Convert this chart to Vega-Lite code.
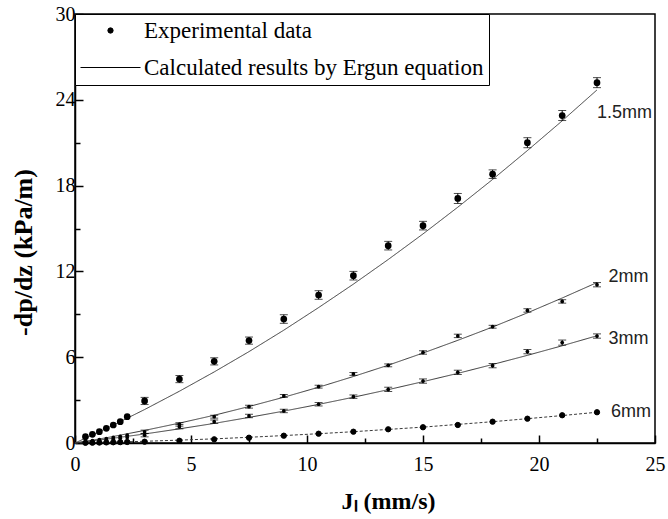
{
  "$schema": "https://vega.github.io/schema/vega-lite/v6.json",
  "width": 580,
  "height": 429,
  "autosize": "none",
  "padding": {"left": 75, "top": 14, "right": 13, "bottom": 76},
  "background": "white",
  "config": {
    "view": {"stroke": "black", "strokeWidth": 1.5},
    "axis": {
      "grid": false,
      "domainColor": "black",
      "domainWidth": 1.5,
      "tickColor": "black",
      "tickWidth": 1.5,
      "labelFont": "Liberation Serif",
      "labelFontSize": 20,
      "labelColor": "black",
      "labelOverlap": false,
      "labelFlush": false,
      "titleColor": "black"
    },
    "legend": {
      "orient": "top-left",
      "offset": 0,
      "padding": 5,
      "rowPadding": 13,
      "strokeColor": "black",
      "fillColor": "white",
      "labelFont": "Liberation Serif",
      "labelFontSize": 23,
      "labelColor": "black",
      "labelOffset": 3,
      "labelLimit": 0,
      "clipHeight": 23,
      "symbolStrokeWidth": 1
    }
  },
  "datasets": {
    "calc": [
      {"series": "1.5mm", "x": 0, "y": 0}, {"series": "1.5mm", "x": 0.75, "y": 0.56}, {"series": "1.5mm", "x": 1.5, "y": 1.13},
      {"series": "1.5mm", "x": 3, "y": 2.34}, {"series": "1.5mm", "x": 4.5, "y": 3.62}, {"series": "1.5mm", "x": 6, "y": 4.97},
      {"series": "1.5mm", "x": 7.5, "y": 6.39}, {"series": "1.5mm", "x": 9, "y": 7.89}, {"series": "1.5mm", "x": 10.5, "y": 9.47},
      {"series": "1.5mm", "x": 12, "y": 11.11}, {"series": "1.5mm", "x": 13.5, "y": 12.83}, {"series": "1.5mm", "x": 15, "y": 14.62},
      {"series": "1.5mm", "x": 16.5, "y": 16.49}, {"series": "1.5mm", "x": 18, "y": 18.43}, {"series": "1.5mm", "x": 19.5, "y": 20.45},
      {"series": "1.5mm", "x": 21, "y": 22.53}, {"series": "1.5mm", "x": 22.5, "y": 24.69},
      {"series": "2mm", "x": 0, "y": 0}, {"series": "2mm", "x": 0.75, "y": 0.2}, {"series": "2mm", "x": 1.5, "y": 0.41},
      {"series": "2mm", "x": 3, "y": 0.88}, {"series": "2mm", "x": 4.5, "y": 1.39}, {"series": "2mm", "x": 6, "y": 1.94},
      {"series": "2mm", "x": 7.5, "y": 2.55}, {"series": "2mm", "x": 9, "y": 3.2}, {"series": "2mm", "x": 10.5, "y": 3.9},
      {"series": "2mm", "x": 12, "y": 4.65}, {"series": "2mm", "x": 13.5, "y": 5.44}, {"series": "2mm", "x": 15, "y": 6.29},
      {"series": "2mm", "x": 16.5, "y": 7.18}, {"series": "2mm", "x": 18, "y": 8.11}, {"series": "2mm", "x": 19.5, "y": 9.1},
      {"series": "2mm", "x": 21, "y": 10.14}, {"series": "2mm", "x": 22.5, "y": 11.22},
      {"series": "3mm", "x": 0, "y": 0}, {"series": "3mm", "x": 0.75, "y": 0.15}, {"series": "3mm", "x": 1.5, "y": 0.3},
      {"series": "3mm", "x": 3, "y": 0.63}, {"series": "3mm", "x": 4.5, "y": 0.99}, {"series": "3mm", "x": 6, "y": 1.37},
      {"series": "3mm", "x": 7.5, "y": 1.79}, {"series": "3mm", "x": 9, "y": 2.23}, {"series": "3mm", "x": 10.5, "y": 2.7},
      {"series": "3mm", "x": 12, "y": 3.2}, {"series": "3mm", "x": 13.5, "y": 3.73}, {"series": "3mm", "x": 15, "y": 4.29},
      {"series": "3mm", "x": 16.5, "y": 4.87}, {"series": "3mm", "x": 18, "y": 5.49}, {"series": "3mm", "x": 19.5, "y": 6.13},
      {"series": "3mm", "x": 21, "y": 6.8}, {"series": "3mm", "x": 22.5, "y": 7.5},
      {"series": "6mm", "x": 0, "y": 0}, {"series": "6mm", "x": 0.75, "y": 0.025}, {"series": "6mm", "x": 1.5, "y": 0.054},
      {"series": "6mm", "x": 3, "y": 0.12}, {"series": "6mm", "x": 4.5, "y": 0.2}, {"series": "6mm", "x": 6, "y": 0.29},
      {"series": "6mm", "x": 7.5, "y": 0.4}, {"series": "6mm", "x": 9, "y": 0.52}, {"series": "6mm", "x": 10.5, "y": 0.65},
      {"series": "6mm", "x": 12, "y": 0.79}, {"series": "6mm", "x": 13.5, "y": 0.95}, {"series": "6mm", "x": 15, "y": 1.11},
      {"series": "6mm", "x": 16.5, "y": 1.3}, {"series": "6mm", "x": 18, "y": 1.49}, {"series": "6mm", "x": 19.5, "y": 1.7},
      {"series": "6mm", "x": 21, "y": 1.92}, {"series": "6mm", "x": 22.5, "y": 2.15}
    ],
    "exp": [
      {"series": "1.5mm", "x": 0.45, "y": 0.44}, {"series": "1.5mm", "x": 0.75, "y": 0.61}, {"series": "1.5mm", "x": 1.05, "y": 0.79},
      {"series": "1.5mm", "x": 1.35, "y": 1.03}, {"series": "1.5mm", "x": 1.65, "y": 1.26}, {"series": "1.5mm", "x": 1.95, "y": 1.49},
      {"series": "1.5mm", "x": 2.25, "y": 1.84},
      {"series": "1.5mm", "x": 3, "y": 2.94, "err": 0.25}, {"series": "1.5mm", "x": 4.5, "y": 4.47, "err": 0.25},
      {"series": "1.5mm", "x": 6, "y": 5.71, "err": 0.25}, {"series": "1.5mm", "x": 7.5, "y": 7.16, "err": 0.25},
      {"series": "1.5mm", "x": 9, "y": 8.67, "err": 0.3}, {"series": "1.5mm", "x": 10.5, "y": 10.35, "err": 0.3},
      {"series": "1.5mm", "x": 12, "y": 11.7, "err": 0.3}, {"series": "1.5mm", "x": 13.5, "y": 13.8, "err": 0.3},
      {"series": "1.5mm", "x": 15, "y": 15.2, "err": 0.3}, {"series": "1.5mm", "x": 16.5, "y": 17.1, "err": 0.35},
      {"series": "1.5mm", "x": 18, "y": 18.8, "err": 0.3}, {"series": "1.5mm", "x": 19.5, "y": 21.0, "err": 0.35},
      {"series": "1.5mm", "x": 21, "y": 22.9, "err": 0.35}, {"series": "1.5mm", "x": 22.5, "y": 25.2, "err": 0.35},
      {"series": "2mm", "x": 0.45, "y": 0.1}, {"series": "2mm", "x": 0.75, "y": 0.17}, {"series": "2mm", "x": 1.05, "y": 0.24},
      {"series": "2mm", "x": 1.35, "y": 0.31}, {"series": "2mm", "x": 1.65, "y": 0.39}, {"series": "2mm", "x": 1.95, "y": 0.47},
      {"series": "2mm", "x": 2.25, "y": 0.55},
      {"series": "2mm", "x": 3, "y": 0.78, "err": 0.12}, {"series": "2mm", "x": 4.5, "y": 1.3, "err": 0.12},
      {"series": "2mm", "x": 6, "y": 1.84, "err": 0.1}, {"series": "2mm", "x": 7.5, "y": 2.54, "err": 0.1},
      {"series": "2mm", "x": 9, "y": 3.29, "err": 0.1}, {"series": "2mm", "x": 10.5, "y": 3.94, "err": 0.1},
      {"series": "2mm", "x": 12, "y": 4.83, "err": 0.1}, {"series": "2mm", "x": 13.5, "y": 5.43, "err": 0.1},
      {"series": "2mm", "x": 15, "y": 6.33, "err": 0.12}, {"series": "2mm", "x": 16.5, "y": 7.49, "err": 0.12},
      {"series": "2mm", "x": 18, "y": 8.13, "err": 0.1}, {"series": "2mm", "x": 19.5, "y": 9.27, "err": 0.12},
      {"series": "2mm", "x": 21, "y": 9.9, "err": 0.12}, {"series": "2mm", "x": 22.5, "y": 11.07, "err": 0.15},
      {"series": "3mm", "x": 0.45, "y": 0.07}, {"series": "3mm", "x": 0.75, "y": 0.12}, {"series": "3mm", "x": 1.05, "y": 0.17},
      {"series": "3mm", "x": 1.35, "y": 0.22}, {"series": "3mm", "x": 1.65, "y": 0.27}, {"series": "3mm", "x": 1.95, "y": 0.33},
      {"series": "3mm", "x": 2.25, "y": 0.39},
      {"series": "3mm", "x": 3, "y": 0.55, "err": 0.12}, {"series": "3mm", "x": 4.5, "y": 1.14, "err": 0.15},
      {"series": "3mm", "x": 6, "y": 1.49, "err": 0.12}, {"series": "3mm", "x": 7.5, "y": 1.89, "err": 0.12},
      {"series": "3mm", "x": 9, "y": 2.24, "err": 0.12}, {"series": "3mm", "x": 10.5, "y": 2.71, "err": 0.12},
      {"series": "3mm", "x": 12, "y": 3.24, "err": 0.12}, {"series": "3mm", "x": 13.5, "y": 3.75, "err": 0.15},
      {"series": "3mm", "x": 15, "y": 4.33, "err": 0.15}, {"series": "3mm", "x": 16.5, "y": 4.94, "err": 0.15},
      {"series": "3mm", "x": 18, "y": 5.41, "err": 0.15}, {"series": "3mm", "x": 19.5, "y": 6.39, "err": 0.15},
      {"series": "3mm", "x": 21, "y": 7.02, "err": 0.18}, {"series": "3mm", "x": 22.5, "y": 7.48, "err": 0.15},
      {"series": "6mm", "x": 0.45, "y": 0.01}, {"series": "6mm", "x": 0.75, "y": 0.02}, {"series": "6mm", "x": 1.05, "y": 0.03},
      {"series": "6mm", "x": 1.35, "y": 0.04}, {"series": "6mm", "x": 1.65, "y": 0.05}, {"series": "6mm", "x": 1.95, "y": 0.06},
      {"series": "6mm", "x": 2.25, "y": 0.07},
      {"series": "6mm", "x": 3, "y": 0.09}, {"series": "6mm", "x": 4.5, "y": 0.16}, {"series": "6mm", "x": 6, "y": 0.26},
      {"series": "6mm", "x": 7.5, "y": 0.37}, {"series": "6mm", "x": 9, "y": 0.51}, {"series": "6mm", "x": 10.5, "y": 0.65},
      {"series": "6mm", "x": 12, "y": 0.79}, {"series": "6mm", "x": 13.5, "y": 0.96}, {"series": "6mm", "x": 15, "y": 1.1},
      {"series": "6mm", "x": 16.5, "y": 1.26}, {"series": "6mm", "x": 18, "y": 1.49}, {"series": "6mm", "x": 19.5, "y": 1.7},
      {"series": "6mm", "x": 21, "y": 1.94}, {"series": "6mm", "x": 22.5, "y": 2.15}
    ],
    "labels": [
      {"label": "1.5mm", "x": 22.5, "y": 23.1},
      {"label": "2mm", "x": 23.0, "y": 11.6},
      {"label": "3mm", "x": 23.0, "y": 7.25},
      {"label": "6mm", "x": 23.1, "y": 2.15}
    ]
  },
  "encoding": {
    "x": {
      "field": "x", "type": "quantitative",
      "scale": {"domain": [0, 25], "nice": false, "zero": false},
      "axis": {
        "values": [0, 2.5, 5, 7.5, 10, 12.5, 15, 17.5, 20, 22.5, 25],
        "labelExpr": "datum.value % 5 === 0 ? datum.label : ''",
        "tickSize": {"condition": {"test": "datum.value % 5 === 0", "value": -8}, "value": -5},
        "labelPadding": 19,
        "title": "Jₗ (mm/s)",
        "titleFont": "Liberation Serif",
        "titleFontSize": 24,
        "titleFontWeight": "bold",
        "titleAlign": "center",
        "titleBaseline": "alphabetic",
        "titleX": 313,
        "titleY": 65
      }
    },
    "y": {
      "field": "y", "type": "quantitative",
      "scale": {"domain": [0, 30], "nice": false, "zero": false},
      "axis": {
        "values": [0, 3, 6, 9, 12, 15, 18, 21, 24, 27, 30],
        "labelExpr": "datum.value % 6 === 0 ? datum.label : ''",
        "tickSize": {"condition": {"test": "datum.value % 6 === 0", "value": -8}, "value": -5},
        "labelPadding": 8,
        "title": "-dp/dz (kPa/m)",
        "titleFont": "Liberation Serif",
        "titleFontSize": 26,
        "titleFontWeight": "bold",
        "titleAlign": "center",
        "titleBaseline": "middle",
        "titleAngle": -90,
        "titleX": -52,
        "titleY": 238
      }
    }
  },
  "layer": [
    {
      "data": {"name": "calc"},
      "mark": {"type": "line", "color": "#3a3a3a", "strokeWidth": 1},
      "encoding": {
        "detail": {"field": "series"},
        "strokeDash": {
          "field": "series", "type": "nominal",
          "scale": {"domain": ["1.5mm", "2mm", "3mm", "6mm"], "range": [[1, 0], [1, 0], [1, 0], [3, 2]]},
          "legend": null
        }
      }
    },
    {
      "data": {"name": "exp"},
      "transform": [{"filter": "isValid(datum.err)"}],
      "mark": {"type": "errorbar", "color": "black", "thickness": 1, "ticks": {"size": 8, "color": "black"}},
      "encoding": {
        "yError": {"field": "err"}
      }
    },
    {
      "data": {"name": "exp"},
      "transform": [{"filter": "datum.series === '1.5mm'"}],
      "mark": {"type": "point", "filled": true, "color": "black", "opacity": 1, "size": 45}
    },
    {
      "data": {"name": "exp"},
      "transform": [{"filter": "datum.series === '2mm' || datum.series === '3mm'"}],
      "mark": {"type": "point", "filled": true, "color": "black", "opacity": 1, "size": 14}
    },
    {
      "data": {"name": "exp"},
      "transform": [{"filter": "datum.series === '6mm'"}],
      "mark": {"type": "point", "filled": false, "fill": "black", "stroke": "black", "strokeWidth": 1, "opacity": 1},
      "encoding": {
        "shape": {
          "datum": "Experimental data",
          "scale": {"domain": ["Experimental data", "Calculated results by Ergun equation"], "range": ["circle", "stroke"]},
          "legend": {"title": null}
        },
        "size": {
          "datum": "Experimental data",
          "type": "nominal",
          "scale": {"type": "ordinal", "domain": ["Experimental data", "Calculated results by Ergun equation"], "range": [28, 3600]},
          "legend": {"title": null}
        }
      }
    },
    {
      "data": {"name": "labels"},
      "mark": {"type": "text", "align": "left", "baseline": "middle", "font": "Liberation Sans", "fontSize": 18, "color": "#222222"},
      "encoding": {
        "text": {"field": "label"}
      }
    }
  ]
}
